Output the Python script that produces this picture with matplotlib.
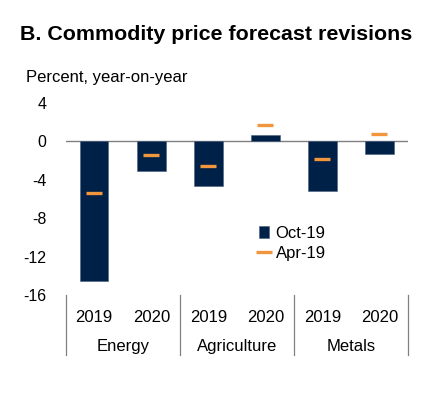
import numpy as np
import matplotlib.pyplot as plt
import matplotlib.transforms as mtransforms

plt.rcParams['font.family'] = ['Liberation Sans', 'DejaVu Sans']
plt.rcParams['axes.unicode_minus'] = False

groups = ['Energy', 'Agriculture', 'Metals']
years = ['2019', '2020']
oct19 = [-14.5, -3.05, -4.65, 0.62, -5.13, -1.35]
apr19 = [-5.4, -1.4, -2.6, 1.7, -1.85, 0.8]

navy = '#002147'
orange = '#F0963C'

fig = plt.figure(figsize=(4.43, 3.96), dpi=100)
ax = fig.add_axes([65.7 / 443, 101 / 396, 342.3 / 443, 192 / 396])

x = np.arange(len(oct19))
b = ax.bar(x, oct19, width=0.5, color=navy, edgecolor='#4a6080', linewidth=0.4,
           label='Oct-19', zorder=2)
m, = ax.plot(x, apr19, linestyle='none', marker='_', markersize=11.5,
             markeredgewidth=2.4, color=orange, label='Apr-19', zorder=3)
ax.axhline(0, color='#808080', linewidth=1, zorder=1)

ax.set_xlim(-0.5, 5.5)
ax.set_ylim(-16, 4)
ax.set_yticks([4, 0, -4, -8, -12, -16])
ax.set_xticks([])
ax.tick_params(axis='y', length=0, pad=14, labelsize=11.5)
for s in ax.spines.values():
    s.set_visible(False)

# category axis below
trans = mtransforms.blended_transform_factory(ax.transData, ax.transAxes)
for xs in [-0.5, 1.5, 3.5, 5.5]:
    ax.plot([xs, xs], [0, -0.31], transform=trans, color='#808080',
            linewidth=0.9, clip_on=False)
for i in range(len(oct19)):
    ax.text(i, -0.115, years[i % 2], transform=trans, ha='center',
            va='center', fontsize=12)
for g, name in enumerate(groups):
    ax.text(2 * g + 0.5, -0.27, name, transform=trans, ha='center',
            va='center', fontsize=12)

ax.legend([b, m], ['Oct-19', 'Apr-19'], loc='upper left',
          bbox_to_anchor=(0.54, 0.405), frameon=False,
          fontsize=12, handlelength=0.6, handletextpad=0.4,
          labelspacing=0.3, borderpad=0)

fig.text(20 / 443, 1 - 40 / 396, 'B. Commodity price forecast revisions',
         fontsize=15.4, fontweight='bold', ha='left', va='baseline')
fig.text(26 / 443, 1 - 82 / 396, 'Percent, year-on-year', fontsize=12,
         ha='left', va='baseline')

fig.savefig('out.png', dpi=100)
